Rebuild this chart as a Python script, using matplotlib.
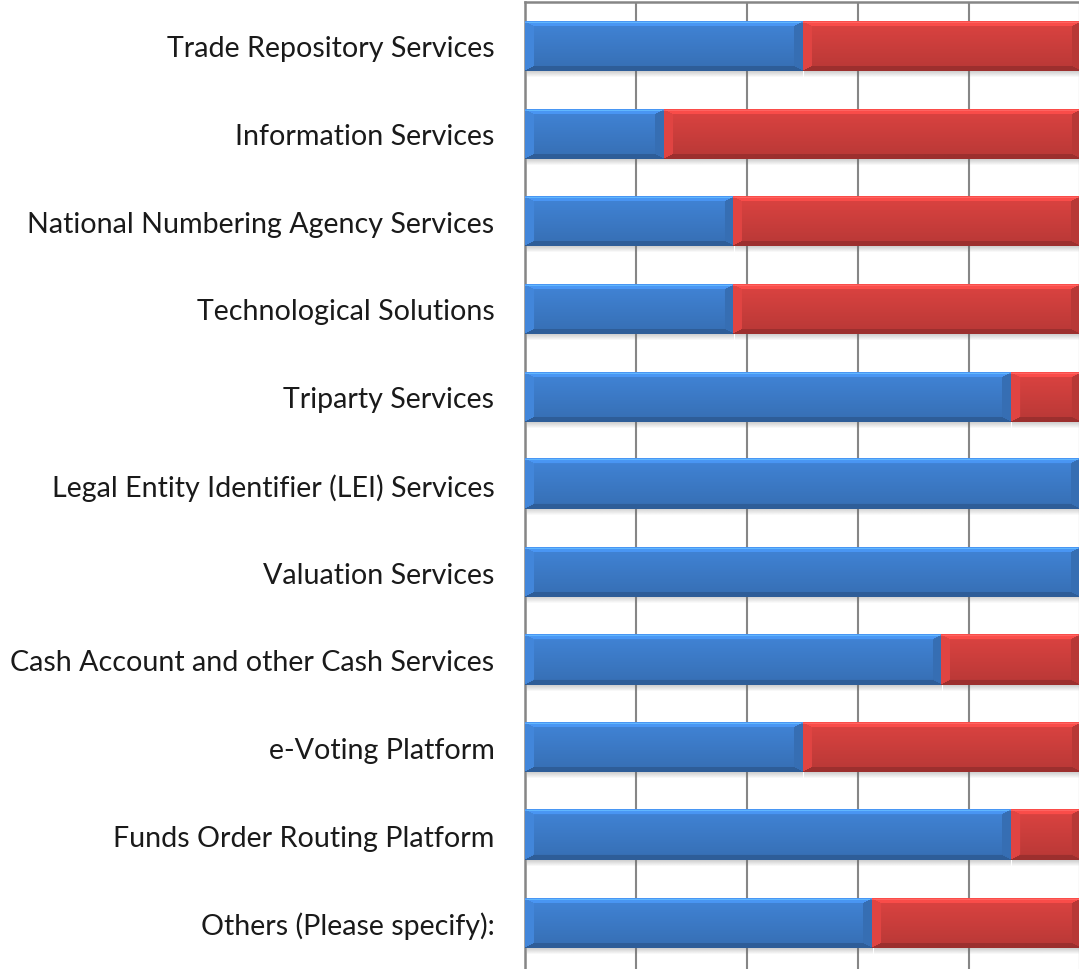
import numpy as np
import matplotlib
matplotlib.use("Agg")
import matplotlib.pyplot as plt
from matplotlib.colors import to_rgb

categories = [
    "Trade Repository Services",
    "Information Services",
    "National Numbering Agency Services",
    "Technological Solutions",
    "Triparty Services",
    "Legal Entity Identifier (LEI) Services",
    "Valuation Services",
    "Cash Account and other Cash Services",
    "e-Voting Platform",
    "Funds Order Routing Platform",
    "Others (Please specify):",
]
yes_share = [50.0, 25.0, 37.5, 37.5, 87.5, 100.0, 100.0, 75.0, 50.0, 87.5, 62.5]
no_share = [100.0 - v for v in yes_share]

blue = "#3b78c3"
red = "#c83d3b"

W, H, DPI = 1079, 970, 100
fig = plt.figure(figsize=(W / DPI, H / DPI), dpi=DPI)

# axes geometry in pixels
left_px, right_px, top_px = 525, 1080, 3
row_px = 87.7
ax_h_px = H - top_px + 20
ax = fig.add_axes([left_px / W, -20 / H, (right_px - left_px) / W, ax_h_px / H])
nrows = ax_h_px / row_px
xlim = (0, 100)
ylim = (-0.5 + nrows, -0.5)

bar_h = 50 / row_px


def bevel_image(color, w_px, h_px):
    w_px, h_px = max(int(round(w_px)), 2), max(int(round(h_px)), 2)
    base = np.array(to_rgb(color))
    yy, xx = np.mgrid[0:h_px, 0:w_px].astype(float)
    # soft vertical gradient in the face
    shade = 1.10 - 0.18 * (yy / (h_px - 1))
    dt, db = yy / 5.0, (h_px - 1 - yy) / 5.0
    dl, dr = xx / 9.0, (w_px - 1 - xx) / 9.0
    d = np.stack([dt, db, dl, dr])
    k = d.argmin(axis=0)
    m = d.min(axis=0)
    facet = np.array([1.25, 0.78, 1.12, 0.92])[k]
    shade = np.where(m < 1, facet, shade)
    img = np.clip(base[None, None, :] * shade[..., None], 0, 1)
    # thin highlight along the top edge
    img[1:2] = np.clip(img[1:2] * 1.12 + 0.06, 0, 1)
    return img


px_per_x = (right_px - left_px) / 100.0
lefts = [0.0] * len(categories)
for vals, col in [(yes_share, blue), (no_share, red)]:
    for i, v in enumerate(vals):
        if v <= 0:
            continue
        x0 = lefts[i]
        # shadow under the bar
        sh = np.linspace(0.3, 0.0, 6)[:, None] * np.ones((1, 4))
        ax.imshow(np.dstack([np.full(sh.shape, 0.4)] * 3 + [sh]),
                  extent=(x0 + 0.3, x0 + v, i + bar_h / 2 + 7 / row_px, i + bar_h / 2),
                  aspect="auto", interpolation="bilinear", zorder=2)
        img = bevel_image(col, v * px_per_x, 50)
        ax.imshow(img, extent=(x0, x0 + v, i + bar_h / 2, i - bar_h / 2),
                  aspect="auto", interpolation="bilinear", zorder=3)
        lefts[i] += v

ax.set_xlim(*xlim)
ax.set_ylim(*ylim)
ax.set_xticks([0, 20, 40, 60, 80, 100])
ax.set_xticklabels([])
ax.tick_params(axis="x", length=0)
ax.xaxis.grid(True, color="#868686", linewidth=1.5)
ax.set_axisbelow(True)
ax.set_yticks(range(len(categories)))
ax.set_yticklabels(categories, fontsize=20.6, family="Lato", color="#1a1a1a")
ax.tick_params(axis="y", length=0, pad=22)
for s in ["right", "bottom"]:
    ax.spines[s].set_visible(False)
for s in ["left", "top"]:
    ax.spines[s].set_color("#868686")
    ax.spines[s].set_linewidth(1.8)

fig.savefig("out.png", dpi=DPI)
